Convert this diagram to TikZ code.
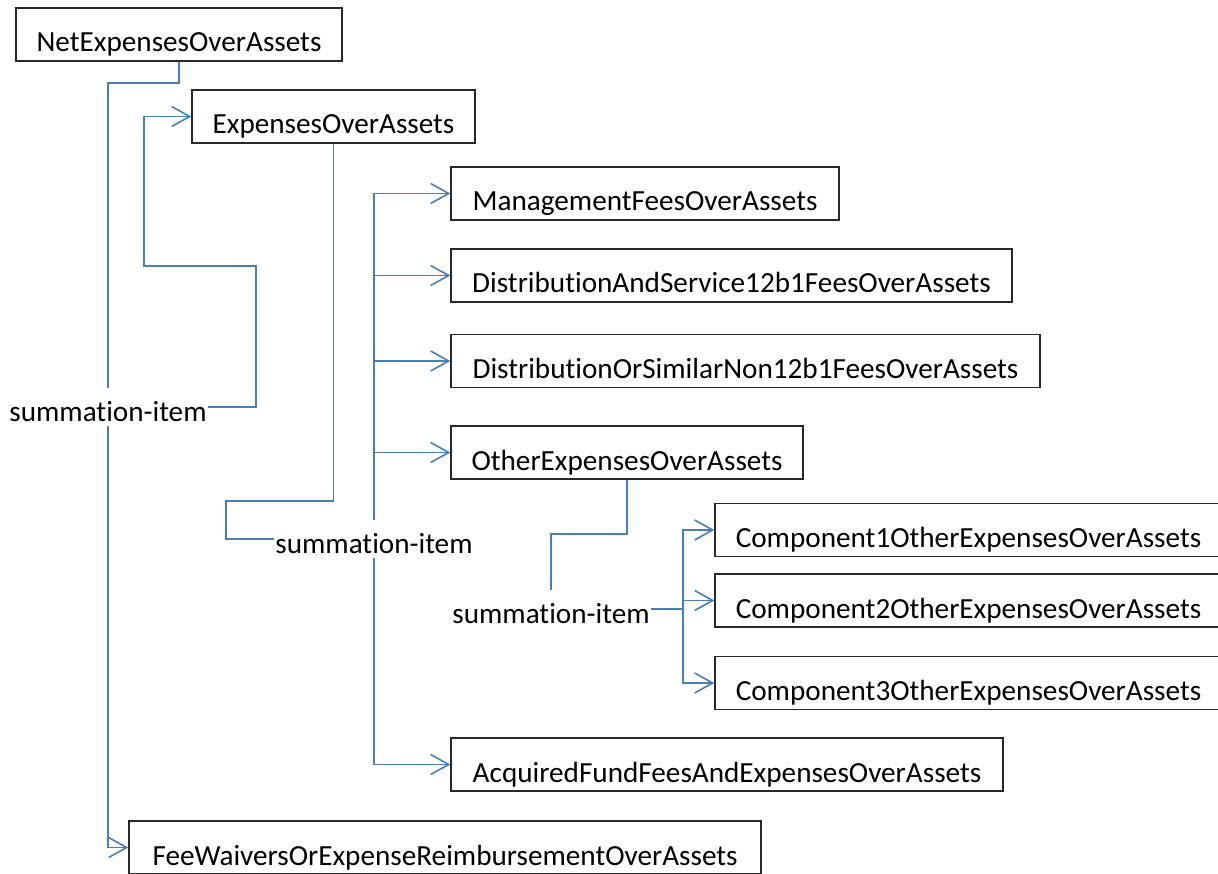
\documentclass[tikz,border=0pt]{standalone}
\usepackage{fontspec}
\setmainfont{Carlito}[Ligatures=NoCommon]
\usetikzlibrary{arrows.meta}
\definecolor{conn}{RGB}{74,126,187}
\definecolor{boxline}{RGB}{40,40,40}
\begin{document}
\begin{tikzpicture}[x=1pt,y=-1pt,
  every node/.style={font=\fontsize{29.2}{35}\selectfont},
  item/.style={draw=boxline, line width=1.4pt, minimum height=53pt, inner ysep=0pt, inner xsep=0pt, text height=44pt, text depth=9pt},
  sumlabel/.style={inner ysep=0pt, inner xsep=1.5pt, text height=33pt, text depth=5pt},
  link/.style={draw=conn, line width=1.6pt},
  arrowlink/.style={link, -{Straight Barb[length=18pt,width=20pt]}}]
\useasboundingbox (0,0) rectangle (1218,874);
% boxes
\node[item, minimum width=326pt] (net) at (179,34.5) {NetExpensesOverAssets};
\node[item, minimum width=283pt] (exp) at (333.5,116.5) {ExpensesOverAssets};
\node[item, minimum width=388pt] (mgmt) at (645,193.5) {ManagementFeesOverAssets};
\node[item, minimum width=561pt] (dsvc) at (731.5,275.5) {DistributionAndService12b1FeesOverAssets};
\node[item, minimum width=589pt] (dsim) at (745.5,361) {DistributionOrSimilarNon12b1FeesOverAssets};
\node[item, minimum width=352pt] (other) at (627,452.5) {OtherExpensesOverAssets};
\node[item, minimum width=507pt] (c1) at (968.5,530) {Component1OtherExpensesOverAssets};
\node[item, minimum width=507pt] (c2) at (968.5,600.5) {Component2OtherExpensesOverAssets};
\node[item, minimum width=507pt] (c3) at (968.5,683) {Component3OtherExpensesOverAssets};
\node[item, minimum width=552pt] (acq) at (727,764.5) {AcquiredFundFeesAndExpensesOverAssets};
\node[item, minimum width=632pt] (fee) at (445,847.5) {FeeWaiversOrExpenseReimbursementOverAssets};
% summation labels
\node[sumlabel] (l1) at (108,407) {summation-item};
\node[sumlabel] (l2) at (374,539) {summation-item};
\node[sumlabel] (l3) at (551,609) {summation-item};
% connectors
\coordinate (n1) at (179,83);
\coordinate (e1) at (256,407);
\coordinate (e2) at (256,266);
\coordinate (e3) at (144,266);
\coordinate (x1) at (333.5,501);
\coordinate (x2) at (226,501);
\coordinate (o1) at (627,534);
\coordinate (t3) at (683,609);
\draw[link] (net.south) -- (n1) -| (l1.north);
\draw[arrowlink] (l1.east) -- (e1) -- (e2) -- (e3) |- (exp.west);
\draw[arrowlink] (l1.south) |- (fee.west);
\draw[link] (exp.south) -- (x1) -- (x2) |- (l2.west);
\draw[arrowlink] (l2.north) |- (mgmt.west);
\draw[arrowlink] (l2.north) |- (dsvc.west);
\draw[arrowlink] (l2.north) |- (dsim.west);
\draw[arrowlink] (l2.north) |- (other.west);
\draw[arrowlink] (l2.south) |- (acq.west);
\draw[link] (other.south) -- (o1) -| (l3.north);
\draw[link] (l3.east) -- (t3);
\draw[arrowlink] (t3) |- (c1.west);
\draw[arrowlink] (t3) |- (c2.west);
\draw[arrowlink] (t3) |- (c3.west);
\end{tikzpicture}
\end{document}
